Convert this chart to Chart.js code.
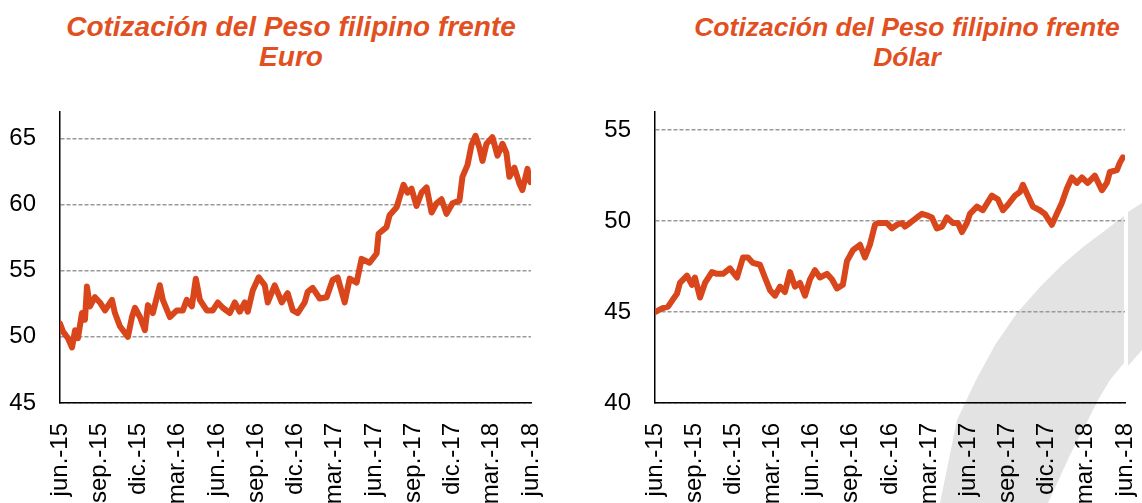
<html>
<head>
<meta charset="utf-8">
<script src="https://cdn.jsdelivr.net/npm/chart.js@4.4.0/dist/chart.umd.min.js"></script>
<style>
body { margin: 0; background: #fff; }
#page { position: relative; width: 1142px; height: 503px; overflow: hidden; }
#page canvas { position: absolute; top: 0; }
#fondo { position: absolute; left: 0; top: 0; }
.titulo { position: absolute; top: 12px; width: 520px; text-align: center;
  font: italic bold 28px "Liberation Sans", Arial, sans-serif; line-height: 30px; color: #e2501f; }
</style>
</head>
<body>
<div id="page">
  <svg id="fondo" width="1142" height="503">
    <polygon fill="#e3e3e3" points="940,503 957,420 976,380 995,345 1017,313 1040,287 1062,265 1083,247 1103,232 1124,216 1124,363 1110,380 1098,400 1088,420 1070,455 1048,503"/>
    <polygon fill="#e3e3e3" points="1128,212 1142,203 1142,350 1128,366"/>
  </svg>
  <div class="titulo" style="left:31px">Cotización del Peso filipino frente<br>Euro</div>
  <div class="titulo" style="left:647px;font-size:26.5px">Cotización del Peso filipino frente<br>Dólar</div>
  <canvas id="chartEur" width="571" height="503" style="left:0"></canvas>
  <canvas id="chartUsd" width="571" height="503" style="left:571px"></canvas>
</div>
<script>
// etiquetas trimestrales del eje x (una cada 3 meses)
const etiquetas = ['jun.-15','sep.-15','dic.-15','mar.-16','jun.-16','sep.-16','dic.-16',
  'mar.-17','jun.-17','sep.-17','dic.-17','mar.-18','jun.-18'];
const ticksEur = [45, 50, 55, 60, 65];
const ticksUsd = [40, 45, 50, 55];

// PHP por EUR (meses desde jun.-15)
const mesesEur = [0,0.23,0.61,0.92,1.15,1.37,1.68,1.91,2.06,2.29,2.67,3.05,3.44,3.97,4.2,4.58,5.19,5.5,5.73,6.11,
  6.49,6.72,7.1,7.4,7.63,7.86,8.4,8.93,9.39,9.69,10.08,10.38,10.69,11.22,11.68,12.06,12.44,12.98,13.36,13.74,
  14.12,14.35,14.73,15.19,15.65,15.88,16.41,16.95,17.4,17.79,18.17,18.7,18.93,19.31,19.85,20.38,20.84,21.22,21.76,22.14,
  22.67,23.05,23.66,24.2,24.35,24.96,25.19,25.73,25.95,26.26,26.56,26.87,27.25,27.63,28.02,28.4,28.78,29.16,29.54,30.0,
  30.53,30.76,31.15,31.45,31.76,32.06,32.29,32.6,33.05,33.44,33.82,34.12,34.35,34.73,35.11,35.34,35.73,35.95];
const valoresEur = [51.0,50.4,49.9,49.2,50.5,49.9,51.8,51.3,53.8,52.3,53.0,52.6,52.0,52.8,51.8,50.8,50.0,51.5,52.2,51.5,
  50.5,52.4,51.8,53.0,53.9,52.8,51.5,52.0,52.0,52.8,52.3,54.4,52.8,52.0,52.0,52.6,52.2,51.8,52.6,51.9,
  52.6,51.9,53.5,54.5,53.9,52.6,53.9,52.6,53.3,52.0,51.8,52.6,53.4,53.7,52.9,53.0,54.3,54.5,52.6,54.4,
  54.1,55.9,55.6,56.3,57.8,58.3,59.2,59.8,60.5,61.5,60.9,61.2,59.9,60.9,61.3,59.4,60.1,60.4,59.3,60.1,
  60.3,62.1,63.0,64.5,65.2,64.3,63.3,64.6,65.1,63.7,64.6,63.9,62.1,62.8,61.6,61.1,62.7,61.7];

// PHP por USD
const mesesUsd = [0,0.54,1.0,1.38,1.68,1.91,2.45,2.83,3.06,3.45,3.83,4.36,4.75,5.21,5.74,6.28,6.74,7.12,7.5,8.04,
  8.42,8.81,9.19,9.57,9.95,10.34,10.72,11.1,11.49,11.87,12.25,12.63,13.17,13.55,13.94,14.39,14.7,15.16,15.7,16.08,
  16.46,16.85,17.08,17.76,18.15,18.53,18.91,19.14,19.53,20.06,20.44,20.9,21.21,21.59,21.98,22.36,22.82,23.2,23.51,23.89,
  24.12,24.66,25.11,25.8,26.26,26.65,27.03,27.57,27.95,28.18,28.56,28.94,29.48,29.86,30.4,30.78,31.16,31.55,31.93,32.31,
  32.7,33.15,33.69,34.23,34.61,34.84,35.38,35.6,35.83];
const valoresUsd = [45.0,45.2,45.3,45.7,46.0,46.6,47.0,46.5,46.9,45.8,46.6,47.2,47.1,47.1,47.4,46.9,48.0,48.0,47.7,47.6,
  46.9,46.2,45.9,46.4,46.1,47.2,46.4,46.6,45.9,46.8,47.3,46.9,47.1,46.8,46.3,46.5,47.8,48.4,48.7,48.0,
  48.7,49.8,49.9,49.9,49.6,49.8,49.9,49.7,49.9,50.2,50.4,50.3,50.2,49.6,49.7,50.2,49.9,49.9,49.4,49.9,
  50.4,50.8,50.6,51.4,51.2,50.6,50.9,51.4,51.6,52.0,51.4,50.8,50.6,50.4,49.8,50.4,51.0,51.8,52.4,52.1,
  52.4,52.1,52.5,51.7,52.1,52.7,52.8,53.2,53.5];

Chart.defaults.font.family = '"Liberation Sans", Arial, sans-serif';
Chart.defaults.color = '#000';

function crear(id, meses, valores, marcas, yMax, anchoY, padDer) {
  const puntos = meses.map((m, i) => ({x: m, y: valores[i]}));
  return new Chart(document.getElementById(id), {
    type: 'line',
    data: { datasets: [{
      data: puntos,
      borderColor: '#d9461b',
      borderWidth: 6,
      pointRadius: 0,
      tension: 0,
      borderJoinStyle: 'round',
      borderCapStyle: 'round'
    }]},
    options: {
      responsive: false,
      animation: false,
      layout: { padding: { top: 112, right: padDer, left: 0, bottom: 0 } },
      plugins: { legend: { display: false }, tooltip: { enabled: false } },
      scales: {
        x: {
          type: 'linear', min: 0, max: 36,
          afterFit: s => { s.height = 100; s.paddingLeft = 0; s.paddingRight = 0; },
          grid: { display: false, drawTicks: false },
          border: { display: true, color: '#000', width: 1.5 },
          ticks: { stepSize: 3, autoSkip: false, maxRotation: 90, minRotation: 90, padding: 20,
            font: { size: 24 }, callback: v => etiquetas[v / 3] }
        },
        y: {
          min: marcas[0], max: yMax,
          afterFit: s => { s.width = anchoY; s.paddingTop = 0; s.paddingBottom = 0; },
          afterBuildTicks: s => { s.ticks = marcas.map(v => ({ value: v })); },
          grid: { color: '#999', lineWidth: 1.4, drawTicks: false },
          border: { display: true, color: '#000', width: 1.5, dash: [4, 2] },
          ticks: { padding: 24, font: { size: 24 } }
        }
      }
    }
  });
}

crear('chartEur', mesesEur, valoresEur, ticksEur, 67, 60, 40);
crear('chartUsd', mesesUsd, valoresUsd, ticksUsd, 56, 84, 17);
</script>
</body>
</html>
